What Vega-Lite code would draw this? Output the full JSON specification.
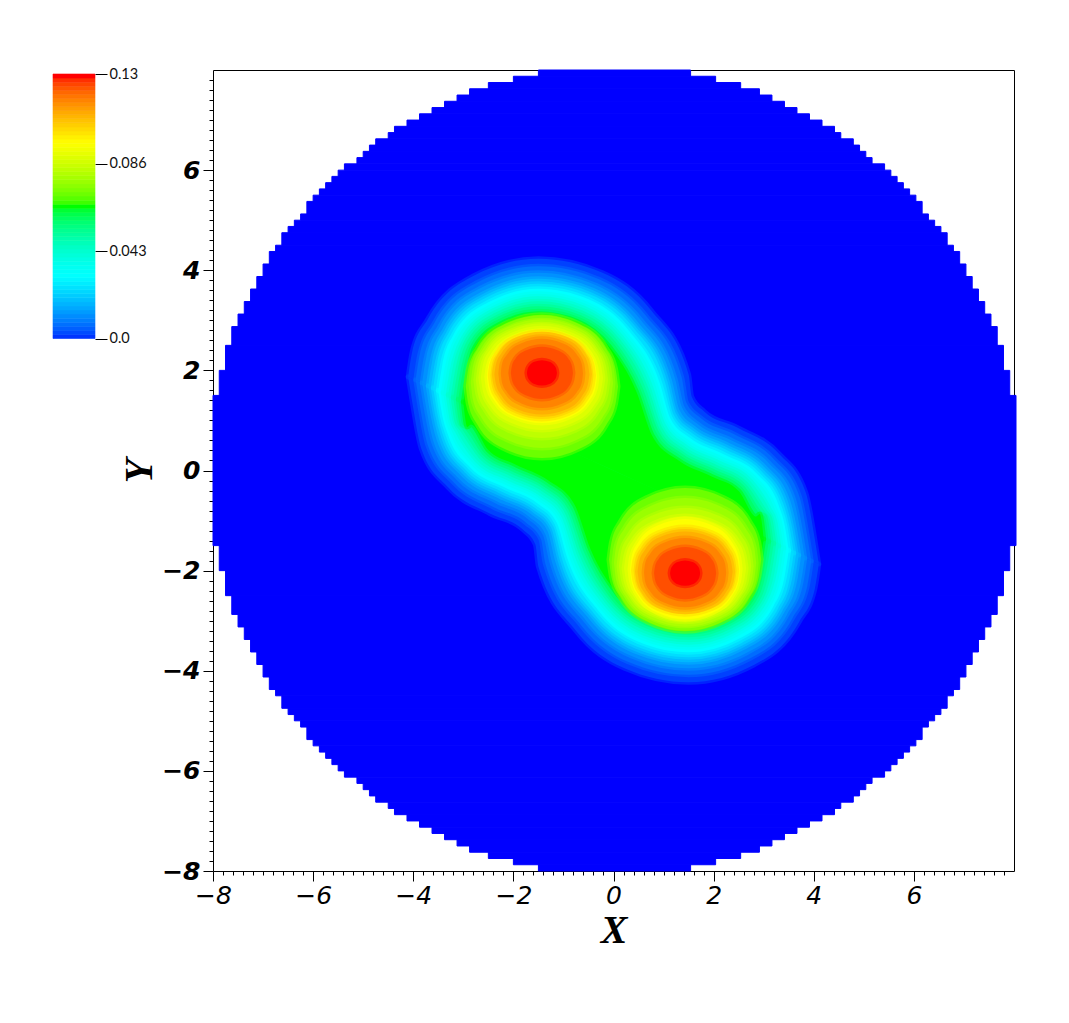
{"$schema":"https://vega.github.io/schema/vega-lite/v6.json","background":"white","padding":{"left":52,"top":66,"right":0,"bottom":0},"bounds":"flush","spacing":118,"config":{"view":{"stroke":null}},
"datasets":{
"bar":[{"y":0,"y2":0.002},{"y":0.002,"y2":0.004},{"y":0.004,"y2":0.006},{"y":0.006,"y2":0.008},{"y":0.008,"y2":0.01},{"y":0.01,"y2":0.012},{"y":0.012,"y2":0.014},{"y":0.014,"y2":0.016},{"y":0.016,"y2":0.018},{"y":0.018,"y2":0.02},{"y":0.02,"y2":0.022},{"y":0.022,"y2":0.024},{"y":0.024,"y2":0.026},{"y":0.026,"y2":0.028},{"y":0.028,"y2":0.03},{"y":0.03,"y2":0.032},{"y":0.032,"y2":0.034},{"y":0.034,"y2":0.036},{"y":0.036,"y2":0.038},{"y":0.038,"y2":0.04},{"y":0.04,"y2":0.042},{"y":0.042,"y2":0.044},{"y":0.044,"y2":0.046},{"y":0.046,"y2":0.048},{"y":0.048,"y2":0.05},{"y":0.05,"y2":0.052},{"y":0.052,"y2":0.054},{"y":0.054,"y2":0.056},{"y":0.056,"y2":0.058},{"y":0.058,"y2":0.06},{"y":0.06,"y2":0.062},{"y":0.062,"y2":0.064},{"y":0.064,"y2":0.066},{"y":0.066,"y2":0.068},{"y":0.068,"y2":0.07},{"y":0.07,"y2":0.072},{"y":0.072,"y2":0.074},{"y":0.074,"y2":0.076},{"y":0.076,"y2":0.078},{"y":0.078,"y2":0.08},{"y":0.08,"y2":0.082},{"y":0.082,"y2":0.084},{"y":0.084,"y2":0.086},{"y":0.086,"y2":0.088},{"y":0.088,"y2":0.09},{"y":0.09,"y2":0.092},{"y":0.092,"y2":0.094},{"y":0.094,"y2":0.096},{"y":0.096,"y2":0.098},{"y":0.098,"y2":0.1},{"y":0.1,"y2":0.102},{"y":0.102,"y2":0.104},{"y":0.104,"y2":0.106},{"y":0.106,"y2":0.108},{"y":0.108,"y2":0.11},{"y":0.11,"y2":0.112},{"y":0.112,"y2":0.114},{"y":0.114,"y2":0.116},{"y":0.116,"y2":0.118},{"y":0.118,"y2":0.12},{"y":0.12,"y2":0.122},{"y":0.122,"y2":0.124},{"y":0.124,"y2":0.126},{"y":0.126,"y2":0.128},{"y":0.128,"y2":0.13}],
"disk":[{"v":0,"x":-1.5,"x2":1.54,"y":7.875,"y2":8},{"v":0,"x":-2,"x2":2.04,"y":7.75,"y2":7.875},{"v":0,"x":-2.5,"x2":2.54,"y":7.625,"y2":7.75},{"v":0,"x":-2.875,"x2":2.915,"y":7.5,"y2":7.625},{"v":0,"x":-3.125,"x2":3.165,"y":7.375,"y2":7.5},{"v":0,"x":-3.375,"x2":3.415,"y":7.25,"y2":7.375},{"v":0,"x":-3.625,"x2":3.665,"y":7.125,"y2":7.25},{"v":0,"x":-3.875,"x2":3.915,"y":7,"y2":7.125},{"v":0,"x":-4.125,"x2":4.165,"y":6.875,"y2":7},{"v":0,"x":-4.375,"x2":4.415,"y":6.75,"y2":6.875},{"v":0,"x":-4.5,"x2":4.54,"y":6.625,"y2":6.75},{"v":0,"x":-4.75,"x2":4.79,"y":6.5,"y2":6.625},{"v":0,"x":-4.875,"x2":4.915,"y":6.375,"y2":6.5},{"v":0,"x":-5,"x2":5.04,"y":6.25,"y2":6.375},{"v":0,"x":-5.125,"x2":5.165,"y":6.125,"y2":6.25},{"v":0,"x":-5.375,"x2":5.415,"y":6,"y2":6.125},{"v":0,"x":-5.5,"x2":5.54,"y":5.875,"y2":6},{"v":0,"x":-5.625,"x2":5.665,"y":5.75,"y2":5.875},{"v":0,"x":-5.75,"x2":5.79,"y":5.625,"y2":5.75},{"v":0,"x":-5.875,"x2":5.915,"y":5.5,"y2":5.625},{"v":0,"x":-6,"x2":6.04,"y":5.375,"y2":5.5},{"v":0,"x":-6.125,"x2":6.165,"y":5.125,"y2":5.375},{"v":0,"x":-6.25,"x2":6.29,"y":5,"y2":5.125},{"v":0,"x":-6.375,"x2":6.415,"y":4.875,"y2":5},{"v":0,"x":-6.5,"x2":6.54,"y":4.75,"y2":4.875},{"v":0,"x":-6.625,"x2":6.665,"y":4.5,"y2":4.75},{"v":0,"x":-6.75,"x2":6.79,"y":4.375,"y2":4.5},{"v":0,"x":-6.875,"x2":6.915,"y":4.125,"y2":4.375},{"v":0,"x":-7,"x2":7.04,"y":3.875,"y2":4.125},{"v":0,"x":-7.125,"x2":7.165,"y":3.625,"y2":3.875},{"v":0,"x":-7.25,"x2":7.29,"y":3.375,"y2":3.625},{"v":0,"x":-7.375,"x2":7.415,"y":3.125,"y2":3.375},{"v":0,"x":-7.5,"x2":7.54,"y":2.875,"y2":3.125},{"v":0,"x":-7.625,"x2":7.665,"y":2.5,"y2":2.875},{"v":0,"x":-7.75,"x2":7.79,"y":2,"y2":2.5},{"v":0,"x":-7.875,"x2":7.915,"y":1.5,"y2":2},{"v":0,"x":-8,"x2":8.04,"y":-1.5,"y2":1.5},{"v":0,"x":-7.875,"x2":7.915,"y":-2,"y2":-1.5},{"v":0,"x":-7.75,"x2":7.79,"y":-2.5,"y2":-2},{"v":0,"x":-7.625,"x2":7.665,"y":-2.875,"y2":-2.5},{"v":0,"x":-7.5,"x2":7.54,"y":-3.125,"y2":-2.875},{"v":0,"x":-7.375,"x2":7.415,"y":-3.375,"y2":-3.125},{"v":0,"x":-7.25,"x2":7.29,"y":-3.625,"y2":-3.375},{"v":0,"x":-7.125,"x2":7.165,"y":-3.875,"y2":-3.625},{"v":0,"x":-7,"x2":7.04,"y":-4.125,"y2":-3.875},{"v":0,"x":-6.875,"x2":6.915,"y":-4.375,"y2":-4.125},{"v":0,"x":-6.75,"x2":6.79,"y":-4.5,"y2":-4.375},{"v":0,"x":-6.625,"x2":6.665,"y":-4.75,"y2":-4.5},{"v":0,"x":-6.5,"x2":6.54,"y":-4.875,"y2":-4.75},{"v":0,"x":-6.375,"x2":6.415,"y":-5,"y2":-4.875},{"v":0,"x":-6.25,"x2":6.29,"y":-5.125,"y2":-5},{"v":0,"x":-6.125,"x2":6.165,"y":-5.375,"y2":-5.125},{"v":0,"x":-6,"x2":6.04,"y":-5.5,"y2":-5.375},{"v":0,"x":-5.875,"x2":5.915,"y":-5.625,"y2":-5.5},{"v":0,"x":-5.75,"x2":5.79,"y":-5.75,"y2":-5.625},{"v":0,"x":-5.625,"x2":5.665,"y":-5.875,"y2":-5.75},{"v":0,"x":-5.5,"x2":5.54,"y":-6,"y2":-5.875},{"v":0,"x":-5.375,"x2":5.415,"y":-6.125,"y2":-6},{"v":0,"x":-5.125,"x2":5.165,"y":-6.25,"y2":-6.125},{"v":0,"x":-5,"x2":5.04,"y":-6.375,"y2":-6.25},{"v":0,"x":-4.875,"x2":4.915,"y":-6.5,"y2":-6.375},{"v":0,"x":-4.75,"x2":4.79,"y":-6.625,"y2":-6.5},{"v":0,"x":-4.5,"x2":4.54,"y":-6.75,"y2":-6.625},{"v":0,"x":-4.375,"x2":4.415,"y":-6.875,"y2":-6.75},{"v":0,"x":-4.125,"x2":4.165,"y":-7,"y2":-6.875},{"v":0,"x":-3.875,"x2":3.915,"y":-7.125,"y2":-7},{"v":0,"x":-3.625,"x2":3.665,"y":-7.25,"y2":-7.125},{"v":0,"x":-3.375,"x2":3.415,"y":-7.375,"y2":-7.25},{"v":0,"x":-3.125,"x2":3.165,"y":-7.5,"y2":-7.375},{"v":0,"x":-2.875,"x2":2.915,"y":-7.625,"y2":-7.5},{"v":0,"x":-2.5,"x2":2.54,"y":-7.75,"y2":-7.625},{"v":0,"x":-2,"x2":2.04,"y":-7.875,"y2":-7.75},{"v":0,"x":-1.5,"x2":1.54,"y":-8,"y2":-7.875}],
"shape":[
{"v":0.003,"p":1,"x":-4.1,"y":1.87,"y2":1.87},{"v":0.003,"p":1,"x":-3.71,"y":3.02,"y2":1.7},{"v":0.003,"p":1,"x":-2.81,"y":3.88,"y2":1.28},{"v":0.003,"p":1,"x":-1.5,"y":4.23,"y2":0.69},{"v":0.003,"p":1,"x":-0.22,"y":3.95,"y2":0.1},{"v":0.003,"p":1,"x":0.75,"y":3.2,"y2":-0.34},{"v":0.003,"p":1,"x":1.5,"y":1.92,"y2":-0.69},{"v":0.003,"p":1,"x":1.56,"y":1.48,"y2":-0.71},{"v":0.003,"p":1,"x":1.81,"y":1.18,"y2":-0.83},{"v":0.003,"p":1,"x":2.47,"y":0.86,"y2":-1.13},{"v":0.003,"p":1,"x":3.3,"y":0.34,"y2":-1.51},{"v":0.003,"p":1,"x":3.84,"y":-0.44,"y2":-1.75},{"v":0.003,"p":1,"x":4.1,"y":-1.87,"y2":-1.87},
{"v":0.003,"p":2,"x":4.1,"y":-1.87,"y2":-1.87},{"v":0.003,"p":2,"x":3.71,"y":-3.02,"y2":-1.7},{"v":0.003,"p":2,"x":2.81,"y":-3.88,"y2":-1.28},{"v":0.003,"p":2,"x":1.5,"y":-4.23,"y2":-0.69},{"v":0.003,"p":2,"x":0.22,"y":-3.95,"y2":-0.1},{"v":0.003,"p":2,"x":-0.75,"y":-3.2,"y2":0.34},{"v":0.003,"p":2,"x":-1.5,"y":-1.92,"y2":0.69},{"v":0.003,"p":2,"x":-1.56,"y":-1.48,"y2":0.71},{"v":0.003,"p":2,"x":-1.81,"y":-1.18,"y2":0.83},{"v":0.003,"p":2,"x":-2.47,"y":-0.86,"y2":1.13},{"v":0.003,"p":2,"x":-3.3,"y":-0.34,"y2":1.51},{"v":0.003,"p":2,"x":-3.84,"y":0.44,"y2":1.75},{"v":0.003,"p":2,"x":-4.1,"y":1.87,"y2":1.87},
{"v":0.0075,"p":1,"x":-3.95,"y":1.81,"y2":1.81},{"v":0.0075,"p":1,"x":-3.58,"y":2.94,"y2":1.64},{"v":0.0075,"p":1,"x":-2.73,"y":3.75,"y2":1.25},{"v":0.0075,"p":1,"x":-1.5,"y":4.08,"y2":0.69},{"v":0.0075,"p":1,"x":-0.29,"y":3.82,"y2":0.13},{"v":0.0075,"p":1,"x":0.64,"y":3.1,"y2":-0.29},{"v":0.0075,"p":1,"x":1.36,"y":1.87,"y2":-0.62},{"v":0.0075,"p":1,"x":1.45,"y":1.37,"y2":-0.66},{"v":0.0075,"p":1,"x":1.74,"y":1.05,"y2":-0.8},{"v":0.0075,"p":1,"x":2.4,"y":0.73,"y2":-1.1},{"v":0.0075,"p":1,"x":3.19,"y":0.24,"y2":-1.46},{"v":0.0075,"p":1,"x":3.71,"y":-0.51,"y2":-1.7},{"v":0.0075,"p":1,"x":3.95,"y":-1.81,"y2":-1.81},
{"v":0.0075,"p":2,"x":3.95,"y":-1.81,"y2":-1.81},{"v":0.0075,"p":2,"x":3.58,"y":-2.94,"y2":-1.64},{"v":0.0075,"p":2,"x":2.73,"y":-3.75,"y2":-1.25},{"v":0.0075,"p":2,"x":1.5,"y":-4.08,"y2":-0.69},{"v":0.0075,"p":2,"x":0.29,"y":-3.82,"y2":-0.13},{"v":0.0075,"p":2,"x":-0.64,"y":-3.1,"y2":0.29},{"v":0.0075,"p":2,"x":-1.36,"y":-1.87,"y2":0.62},{"v":0.0075,"p":2,"x":-1.45,"y":-1.37,"y2":0.66},{"v":0.0075,"p":2,"x":-1.74,"y":-1.05,"y2":0.8},{"v":0.0075,"p":2,"x":-2.4,"y":-0.73,"y2":1.1},{"v":0.0075,"p":2,"x":-3.19,"y":-0.24,"y2":1.46},{"v":0.0075,"p":2,"x":-3.71,"y":0.51,"y2":1.7},{"v":0.0075,"p":2,"x":-3.95,"y":1.81,"y2":1.81},
{"v":0.0125,"p":1,"x":-3.82,"y":1.75,"y2":1.75},{"v":0.0125,"p":1,"x":-3.47,"y":2.87,"y2":1.59},{"v":0.0125,"p":1,"x":-2.66,"y":3.64,"y2":1.22},{"v":0.0125,"p":1,"x":-1.5,"y":3.95,"y2":0.69},{"v":0.0125,"p":1,"x":-0.35,"y":3.7,"y2":0.16},{"v":0.0125,"p":1,"x":0.54,"y":3.01,"y2":-0.25},{"v":0.0125,"p":1,"x":1.23,"y":1.83,"y2":-0.56},{"v":0.0125,"p":1,"x":1.36,"y":1.28,"y2":-0.62},{"v":0.0125,"p":1,"x":1.68,"y":0.93,"y2":-0.77},{"v":0.0125,"p":1,"x":2.34,"y":0.61,"y2":-1.07},{"v":0.0125,"p":1,"x":3.1,"y":0.15,"y2":-1.42},{"v":0.0125,"p":1,"x":3.59,"y":-0.56,"y2":-1.64},{"v":0.0125,"p":1,"x":3.82,"y":-1.75,"y2":-1.75},
{"v":0.0125,"p":2,"x":3.82,"y":-1.75,"y2":-1.75},{"v":0.0125,"p":2,"x":3.47,"y":-2.87,"y2":-1.59},{"v":0.0125,"p":2,"x":2.66,"y":-3.64,"y2":-1.22},{"v":0.0125,"p":2,"x":1.5,"y":-3.95,"y2":-0.69},{"v":0.0125,"p":2,"x":0.35,"y":-3.7,"y2":-0.16},{"v":0.0125,"p":2,"x":-0.54,"y":-3.01,"y2":0.25},{"v":0.0125,"p":2,"x":-1.23,"y":-1.83,"y2":0.56},{"v":0.0125,"p":2,"x":-1.36,"y":-1.28,"y2":0.62},{"v":0.0125,"p":2,"x":-1.68,"y":-0.93,"y2":0.77},{"v":0.0125,"p":2,"x":-2.34,"y":-0.61,"y2":1.07},{"v":0.0125,"p":2,"x":-3.1,"y":-0.15,"y2":1.42},{"v":0.0125,"p":2,"x":-3.59,"y":0.56,"y2":1.64},{"v":0.0125,"p":2,"x":-3.82,"y":1.75,"y2":1.75},
{"v":0.0185,"p":1,"x":-3.7,"y":1.69,"y2":1.69},{"v":0.0185,"p":1,"x":-3.37,"y":2.81,"y2":1.54},{"v":0.0185,"p":1,"x":-2.6,"y":3.53,"y2":1.19},{"v":0.0185,"p":1,"x":-1.5,"y":3.83,"y2":0.69},{"v":0.0185,"p":1,"x":-0.41,"y":3.6,"y2":0.19},{"v":0.0185,"p":1,"x":0.45,"y":2.93,"y2":-0.21},{"v":0.0185,"p":1,"x":1.12,"y":1.79,"y2":-0.51},{"v":0.0185,"p":1,"x":1.27,"y":1.19,"y2":-0.58},{"v":0.0185,"p":1,"x":1.62,"y":0.83,"y2":-0.74},{"v":0.0185,"p":1,"x":2.28,"y":0.51,"y2":-1.04},{"v":0.0185,"p":1,"x":3.01,"y":0.07,"y2":-1.38},{"v":0.0185,"p":1,"x":3.48,"y":-0.61,"y2":-1.59},{"v":0.0185,"p":1,"x":3.7,"y":-1.69,"y2":-1.69},
{"v":0.0185,"p":2,"x":3.7,"y":-1.69,"y2":-1.69},{"v":0.0185,"p":2,"x":3.37,"y":-2.81,"y2":-1.54},{"v":0.0185,"p":2,"x":2.6,"y":-3.53,"y2":-1.19},{"v":0.0185,"p":2,"x":1.5,"y":-3.83,"y2":-0.69},{"v":0.0185,"p":2,"x":0.41,"y":-3.6,"y2":-0.19},{"v":0.0185,"p":2,"x":-0.45,"y":-2.93,"y2":0.21},{"v":0.0185,"p":2,"x":-1.12,"y":-1.79,"y2":0.51},{"v":0.0185,"p":2,"x":-1.27,"y":-1.19,"y2":0.58},{"v":0.0185,"p":2,"x":-1.62,"y":-0.83,"y2":0.74},{"v":0.0185,"p":2,"x":-2.28,"y":-0.51,"y2":1.04},{"v":0.0185,"p":2,"x":-3.01,"y":-0.07,"y2":1.38},{"v":0.0185,"p":2,"x":-3.48,"y":0.61,"y2":1.59},{"v":0.0185,"p":2,"x":-3.7,"y":1.69,"y2":1.69},
{"v":0.025,"p":1,"x":-3.6,"y":1.65,"y2":1.65},{"v":0.025,"p":1,"x":-3.29,"y":2.75,"y2":1.5},{"v":0.025,"p":1,"x":-2.55,"y":3.45,"y2":1.17},{"v":0.025,"p":1,"x":-1.5,"y":3.73,"y2":0.69},{"v":0.025,"p":1,"x":-0.45,"y":3.51,"y2":0.21},{"v":0.025,"p":1,"x":0.38,"y":2.87,"y2":-0.17},{"v":0.025,"p":1,"x":1.03,"y":1.76,"y2":-0.47},{"v":0.025,"p":1,"x":1.2,"y":1.12,"y2":-0.55},{"v":0.025,"p":1,"x":1.58,"y":0.74,"y2":-0.72},{"v":0.025,"p":1,"x":2.24,"y":0.42,"y2":-1.02},{"v":0.025,"p":1,"x":2.94,"y":0,"y2":-1.34},{"v":0.025,"p":1,"x":3.39,"y":-0.66,"y2":-1.55},{"v":0.025,"p":1,"x":3.6,"y":-1.65,"y2":-1.65},
{"v":0.025,"p":2,"x":3.6,"y":-1.65,"y2":-1.65},{"v":0.025,"p":2,"x":3.29,"y":-2.75,"y2":-1.5},{"v":0.025,"p":2,"x":2.55,"y":-3.45,"y2":-1.17},{"v":0.025,"p":2,"x":1.5,"y":-3.73,"y2":-0.69},{"v":0.025,"p":2,"x":0.45,"y":-3.51,"y2":-0.21},{"v":0.025,"p":2,"x":-0.38,"y":-2.87,"y2":0.17},{"v":0.025,"p":2,"x":-1.03,"y":-1.76,"y2":0.47},{"v":0.025,"p":2,"x":-1.2,"y":-1.12,"y2":0.55},{"v":0.025,"p":2,"x":-1.58,"y":-0.74,"y2":0.72},{"v":0.025,"p":2,"x":-2.24,"y":-0.42,"y2":1.02},{"v":0.025,"p":2,"x":-2.94,"y":0,"y2":1.34},{"v":0.025,"p":2,"x":-3.39,"y":0.66,"y2":1.55},{"v":0.025,"p":2,"x":-3.6,"y":1.65,"y2":1.65},
{"v":0.0316,"p":1,"x":-3.5,"y":1.6,"y2":1.6},{"v":0.0316,"p":1,"x":-3.2,"y":2.7,"y2":1.46},{"v":0.0316,"p":1,"x":-2.5,"y":3.36,"y2":1.14},{"v":0.0316,"p":1,"x":-1.5,"y":3.63,"y2":0.69},{"v":0.0316,"p":1,"x":-0.5,"y":3.42,"y2":0.23},{"v":0.0316,"p":1,"x":0.3,"y":2.8,"y2":-0.14},{"v":0.0316,"p":1,"x":0.93,"y":1.73,"y2":-0.43},{"v":0.0316,"p":1,"x":1.13,"y":1.05,"y2":-0.52},{"v":0.0316,"p":1,"x":1.53,"y":0.65,"y2":-0.7},{"v":0.0316,"p":1,"x":2.19,"y":0.33,"y2":-1},{"v":0.0316,"p":1,"x":2.87,"y":-0.07,"y2":-1.31},{"v":0.0316,"p":1,"x":3.3,"y":-0.7,"y2":-1.51},{"v":0.0316,"p":1,"x":3.5,"y":-1.6,"y2":-1.6},
{"v":0.0316,"p":2,"x":3.5,"y":-1.6,"y2":-1.6},{"v":0.0316,"p":2,"x":3.2,"y":-2.7,"y2":-1.46},{"v":0.0316,"p":2,"x":2.5,"y":-3.36,"y2":-1.14},{"v":0.0316,"p":2,"x":1.5,"y":-3.63,"y2":-0.69},{"v":0.0316,"p":2,"x":0.5,"y":-3.42,"y2":-0.23},{"v":0.0316,"p":2,"x":-0.3,"y":-2.8,"y2":0.14},{"v":0.0316,"p":2,"x":-0.93,"y":-1.73,"y2":0.43},{"v":0.0316,"p":2,"x":-1.13,"y":-1.05,"y2":0.52},{"v":0.0316,"p":2,"x":-1.53,"y":-0.65,"y2":0.7},{"v":0.0316,"p":2,"x":-2.19,"y":-0.33,"y2":1},{"v":0.0316,"p":2,"x":-2.87,"y":0.07,"y2":1.31},{"v":0.0316,"p":2,"x":-3.3,"y":0.7,"y2":1.51},{"v":0.0316,"p":2,"x":-3.5,"y":1.6,"y2":1.6},
{"v":0.038,"p":1,"x":-3.4,"y":1.55,"y2":1.55},{"v":0.038,"p":1,"x":-3.12,"y":2.65,"y2":1.43},{"v":0.038,"p":1,"x":-2.45,"y":3.27,"y2":1.12},{"v":0.038,"p":1,"x":-1.5,"y":3.53,"y2":0.69},{"v":0.038,"p":1,"x":-0.55,"y":3.33,"y2":0.25},{"v":0.038,"p":1,"x":0.23,"y":2.73,"y2":-0.11},{"v":0.038,"p":1,"x":0.84,"y":1.7,"y2":-0.38},{"v":0.038,"p":1,"x":1.06,"y":0.98,"y2":-0.48},{"v":0.038,"p":1,"x":1.48,"y":0.56,"y2":-0.68},{"v":0.038,"p":1,"x":2.14,"y":0.24,"y2":-0.98},{"v":0.038,"p":1,"x":2.8,"y":-0.14,"y2":-1.28},{"v":0.038,"p":1,"x":3.21,"y":-0.74,"y2":-1.47},{"v":0.038,"p":1,"x":3.4,"y":-1.55,"y2":-1.55},
{"v":0.038,"p":2,"x":3.4,"y":-1.55,"y2":-1.55},{"v":0.038,"p":2,"x":3.12,"y":-2.65,"y2":-1.43},{"v":0.038,"p":2,"x":2.45,"y":-3.27,"y2":-1.12},{"v":0.038,"p":2,"x":1.5,"y":-3.53,"y2":-0.69},{"v":0.038,"p":2,"x":0.55,"y":-3.33,"y2":-0.25},{"v":0.038,"p":2,"x":-0.23,"y":-2.73,"y2":0.11},{"v":0.038,"p":2,"x":-0.84,"y":-1.7,"y2":0.38},{"v":0.038,"p":2,"x":-1.06,"y":-0.98,"y2":0.48},{"v":0.038,"p":2,"x":-1.48,"y":-0.56,"y2":0.68},{"v":0.038,"p":2,"x":-2.14,"y":-0.24,"y2":0.98},{"v":0.038,"p":2,"x":-2.8,"y":0.14,"y2":1.28},{"v":0.038,"p":2,"x":-3.21,"y":0.74,"y2":1.47},{"v":0.038,"p":2,"x":-3.4,"y":1.55,"y2":1.55},
{"v":0.045,"p":1,"x":-3.3,"y":1.51,"y2":1.51},{"v":0.045,"p":1,"x":-3.03,"y":2.59,"y2":1.38},{"v":0.045,"p":1,"x":-2.4,"y":3.19,"y2":1.1},{"v":0.045,"p":1,"x":-1.5,"y":3.43,"y2":0.69},{"v":0.045,"p":1,"x":-0.59,"y":3.24,"y2":0.27},{"v":0.045,"p":1,"x":0.15,"y":2.67,"y2":-0.07},{"v":0.045,"p":1,"x":0.74,"y":1.67,"y2":-0.34},{"v":0.045,"p":1,"x":0.99,"y":0.91,"y2":-0.45},{"v":0.045,"p":1,"x":1.44,"y":0.47,"y2":-0.66},{"v":0.045,"p":1,"x":2.1,"y":0.15,"y2":-0.96},{"v":0.045,"p":1,"x":2.73,"y":-0.21,"y2":-1.25},{"v":0.045,"p":1,"x":3.12,"y":-0.79,"y2":-1.43},{"v":0.045,"p":1,"x":3.3,"y":-1.51,"y2":-1.51},
{"v":0.045,"p":2,"x":3.3,"y":-1.51,"y2":-1.51},{"v":0.045,"p":2,"x":3.03,"y":-2.59,"y2":-1.38},{"v":0.045,"p":2,"x":2.4,"y":-3.19,"y2":-1.1},{"v":0.045,"p":2,"x":1.5,"y":-3.43,"y2":-0.69},{"v":0.045,"p":2,"x":0.59,"y":-3.24,"y2":-0.27},{"v":0.045,"p":2,"x":-0.15,"y":-2.67,"y2":0.07},{"v":0.045,"p":2,"x":-0.74,"y":-1.67,"y2":0.34},{"v":0.045,"p":2,"x":-0.99,"y":-0.91,"y2":0.45},{"v":0.045,"p":2,"x":-1.44,"y":-0.47,"y2":0.66},{"v":0.045,"p":2,"x":-2.1,"y":-0.15,"y2":0.96},{"v":0.045,"p":2,"x":-2.73,"y":0.21,"y2":1.25},{"v":0.045,"p":2,"x":-3.12,"y":0.79,"y2":1.43},{"v":0.045,"p":2,"x":-3.3,"y":1.51,"y2":1.51},
{"v":0.052,"p":1,"x":-3.2,"y":1.46,"y2":1.46},{"v":0.052,"p":1,"x":-2.95,"y":2.54,"y2":1.35},{"v":0.052,"p":1,"x":-2.35,"y":3.1,"y2":1.07},{"v":0.052,"p":1,"x":-1.5,"y":3.33,"y2":0.69},{"v":0.052,"p":1,"x":-0.64,"y":3.15,"y2":0.29},{"v":0.052,"p":1,"x":0.08,"y":2.6,"y2":-0.04},{"v":0.052,"p":1,"x":0.65,"y":1.63,"y2":-0.3},{"v":0.052,"p":1,"x":0.92,"y":0.84,"y2":-0.42},{"v":0.052,"p":1,"x":1.39,"y":0.38,"y2":-0.64},{"v":0.052,"p":1,"x":2.05,"y":0.06,"y2":-0.94},{"v":0.052,"p":1,"x":2.65,"y":-0.28,"y2":-1.21},{"v":0.052,"p":1,"x":3.03,"y":-0.83,"y2":-1.38},{"v":0.052,"p":1,"x":3.2,"y":-1.46,"y2":-1.46},
{"v":0.052,"p":2,"x":3.2,"y":-1.46,"y2":-1.46},{"v":0.052,"p":2,"x":2.95,"y":-2.54,"y2":-1.35},{"v":0.052,"p":2,"x":2.35,"y":-3.1,"y2":-1.07},{"v":0.052,"p":2,"x":1.5,"y":-3.33,"y2":-0.69},{"v":0.052,"p":2,"x":0.64,"y":-3.15,"y2":-0.29},{"v":0.052,"p":2,"x":-0.08,"y":-2.6,"y2":0.04},{"v":0.052,"p":2,"x":-0.65,"y":-1.63,"y2":0.3},{"v":0.052,"p":2,"x":-0.92,"y":-0.84,"y2":0.42},{"v":0.052,"p":2,"x":-1.39,"y":-0.38,"y2":0.64},{"v":0.052,"p":2,"x":-2.05,"y":-0.06,"y2":0.94},{"v":0.052,"p":2,"x":-2.65,"y":0.28,"y2":1.21},{"v":0.052,"p":2,"x":-3.03,"y":0.83,"y2":1.38},{"v":0.052,"p":2,"x":-3.2,"y":1.46,"y2":1.46},
{"v":0.059,"p":1,"x":-3.1,"y":1.42,"y2":1.42},{"v":0.059,"p":1,"x":-2.86,"y":2.49,"y2":1.31},{"v":0.059,"p":1,"x":-2.3,"y":3.02,"y2":1.05},{"v":0.059,"p":1,"x":-1.5,"y":3.23,"y2":0.69},{"v":0.059,"p":1,"x":-0.68,"y":3.06,"y2":0.31},{"v":0.059,"p":1,"x":0,"y":2.54,"y2":0},{"v":0.059,"p":1,"x":0.55,"y":1.6,"y2":-0.25},{"v":0.059,"p":1,"x":0.85,"y":0.77,"y2":-0.39},{"v":0.059,"p":1,"x":1.35,"y":0.29,"y2":-0.62},{"v":0.059,"p":1,"x":2.01,"y":-0.03,"y2":-0.92},{"v":0.059,"p":1,"x":2.58,"y":-0.35,"y2":-1.18},{"v":0.059,"p":1,"x":2.94,"y":-0.87,"y2":-1.34},{"v":0.059,"p":1,"x":3.1,"y":-1.42,"y2":-1.42},
{"v":0.059,"p":2,"x":3.1,"y":-1.42,"y2":-1.42},{"v":0.059,"p":2,"x":2.86,"y":-2.49,"y2":-1.31},{"v":0.059,"p":2,"x":2.3,"y":-3.02,"y2":-1.05},{"v":0.059,"p":2,"x":1.5,"y":-3.23,"y2":-0.69},{"v":0.059,"p":2,"x":0.68,"y":-3.06,"y2":-0.31},{"v":0.059,"p":2,"x":-0.01,"y":-2.54,"y2":0},{"v":0.059,"p":2,"x":-0.55,"y":-1.6,"y2":0.25},{"v":0.059,"p":2,"x":-0.85,"y":-0.77,"y2":0.39},{"v":0.059,"p":2,"x":-1.35,"y":-0.29,"y2":0.62},{"v":0.059,"p":2,"x":-2.01,"y":0.03,"y2":0.92},{"v":0.059,"p":2,"x":-2.58,"y":0.35,"y2":1.18},{"v":0.059,"p":2,"x":-2.94,"y":0.87,"y2":1.34},{"v":0.059,"p":2,"x":-3.1,"y":1.42,"y2":1.42},
{"v":0.066,"p":1,"x":-3,"y":1.37,"y2":1.37},{"v":0.066,"p":1,"x":-2.78,"y":2.44,"y2":1.27},{"v":0.066,"p":1,"x":-2.25,"y":2.93,"y2":1.03},{"v":0.066,"p":1,"x":-1.5,"y":3.13,"y2":0.69},{"v":0.066,"p":1,"x":-0.73,"y":2.98,"y2":0.33},{"v":0.066,"p":1,"x":-0.08,"y":2.47,"y2":0.04},{"v":0.066,"p":1,"x":0.46,"y":1.57,"y2":-0.21},{"v":0.066,"p":1,"x":0.77,"y":0.7,"y2":-0.35},{"v":0.066,"p":1,"x":1.3,"y":0.2,"y2":-0.59},{"v":0.066,"p":1,"x":1.96,"y":-0.12,"y2":-0.9},{"v":0.066,"p":1,"x":2.51,"y":-0.42,"y2":-1.15},{"v":0.066,"p":1,"x":2.85,"y":-0.92,"y2":-1.3},{"v":0.066,"p":1,"x":3,"y":-1.37,"y2":-1.37},
{"v":0.066,"p":2,"x":3,"y":-1.37,"y2":-1.37},{"v":0.066,"p":2,"x":2.78,"y":-2.44,"y2":-1.27},{"v":0.066,"p":2,"x":2.25,"y":-2.93,"y2":-1.03},{"v":0.066,"p":2,"x":1.5,"y":-3.13,"y2":-0.69},{"v":0.066,"p":2,"x":0.73,"y":-2.98,"y2":-0.33},{"v":0.066,"p":2,"x":0.08,"y":-2.47,"y2":-0.04},{"v":0.066,"p":2,"x":-0.46,"y":-1.57,"y2":0.21},{"v":0.066,"p":2,"x":-0.77,"y":-0.7,"y2":0.35},{"v":0.066,"p":2,"x":-1.3,"y":-0.2,"y2":0.59},{"v":0.066,"p":2,"x":-1.96,"y":0.12,"y2":0.9},{"v":0.066,"p":2,"x":-2.51,"y":0.42,"y2":1.15},{"v":0.066,"p":2,"x":-2.85,"y":0.92,"y2":1.3},{"v":0.066,"p":2,"x":-3,"y":1.37,"y2":1.37},
{"v":0.072,"p":1,"x":-2.95,"y":1.68,"y2":1.68},{"v":0.072,"p":1,"x":-2.72,"y":2.44,"y2":0.92},{"v":0.072,"p":1,"x":-2.19,"y":2.92,"y2":0.44},{"v":0.072,"p":1,"x":-1.43,"y":3.11,"y2":0.25},{"v":0.072,"p":1,"x":-0.67,"y":2.92,"y2":0.44},{"v":0.072,"p":1,"x":-0.14,"y":2.44,"y2":0.92},{"v":0.072,"p":1,"x":0.09,"y":1.68,"y2":1.68},
{"v":0.072,"p":2,"x":-0.09,"y":-1.78,"y2":-1.78},{"v":0.072,"p":2,"x":0.14,"y":-1.02,"y2":-2.54},{"v":0.072,"p":2,"x":0.67,"y":-0.54,"y2":-3.02},{"v":0.072,"p":2,"x":1.43,"y":-0.35,"y2":-3.21},{"v":0.072,"p":2,"x":2.19,"y":-0.54,"y2":-3.02},{"v":0.072,"p":2,"x":2.72,"y":-1.02,"y2":-2.54},{"v":0.072,"p":2,"x":2.95,"y":-1.78,"y2":-1.78},
{"v":0.078,"p":1,"x":-2.85,"y":1.75,"y2":1.75},{"v":0.078,"p":1,"x":-2.64,"y":2.44,"y2":1.06},{"v":0.078,"p":1,"x":-2.14,"y":2.88,"y2":0.62},{"v":0.078,"p":1,"x":-1.43,"y":3.05,"y2":0.45},{"v":0.078,"p":1,"x":-0.72,"y":2.88,"y2":0.62},{"v":0.078,"p":1,"x":-0.22,"y":2.44,"y2":1.06},{"v":0.078,"p":1,"x":-0.01,"y":1.75,"y2":1.75},
{"v":0.078,"p":2,"x":0.01,"y":-1.85,"y2":-1.85},{"v":0.078,"p":2,"x":0.22,"y":-1.16,"y2":-2.54},{"v":0.078,"p":2,"x":0.72,"y":-0.72,"y2":-2.98},{"v":0.078,"p":2,"x":1.43,"y":-0.55,"y2":-3.15},{"v":0.078,"p":2,"x":2.14,"y":-0.72,"y2":-2.98},{"v":0.078,"p":2,"x":2.64,"y":-1.16,"y2":-2.54},{"v":0.078,"p":2,"x":2.85,"y":-1.85,"y2":-1.85},
{"v":0.084,"p":1,"x":-2.75,"y":1.81,"y2":1.81},{"v":0.084,"p":1,"x":-2.55,"y":2.42,"y2":1.2},{"v":0.084,"p":1,"x":-2.09,"y":2.82,"y2":0.8},{"v":0.084,"p":1,"x":-1.43,"y":2.97,"y2":0.65},{"v":0.084,"p":1,"x":-0.77,"y":2.82,"y2":0.8},{"v":0.084,"p":1,"x":-0.31,"y":2.42,"y2":1.2},{"v":0.084,"p":1,"x":-0.11,"y":1.81,"y2":1.81},
{"v":0.084,"p":2,"x":0.11,"y":-1.91,"y2":-1.91},{"v":0.084,"p":2,"x":0.31,"y":-1.3,"y2":-2.52},{"v":0.084,"p":2,"x":0.77,"y":-0.9,"y2":-2.92},{"v":0.084,"p":2,"x":1.43,"y":-0.75,"y2":-3.07},{"v":0.084,"p":2,"x":2.09,"y":-0.9,"y2":-2.92},{"v":0.084,"p":2,"x":2.55,"y":-1.3,"y2":-2.52},{"v":0.084,"p":2,"x":2.75,"y":-1.91,"y2":-1.91},
{"v":0.09,"p":1,"x":-2.65,"y":1.85,"y2":1.85},{"v":0.09,"p":1,"x":-2.47,"y":2.4,"y2":1.3},{"v":0.09,"p":1,"x":-2.04,"y":2.75,"y2":0.95},{"v":0.09,"p":1,"x":-1.43,"y":2.89,"y2":0.81},{"v":0.09,"p":1,"x":-0.82,"y":2.75,"y2":0.95},{"v":0.09,"p":1,"x":-0.39,"y":2.4,"y2":1.3},{"v":0.09,"p":1,"x":-0.21,"y":1.85,"y2":1.85},
{"v":0.09,"p":2,"x":0.21,"y":-1.95,"y2":-1.95},{"v":0.09,"p":2,"x":0.39,"y":-1.4,"y2":-2.5},{"v":0.09,"p":2,"x":0.82,"y":-1.05,"y2":-2.85},{"v":0.09,"p":2,"x":1.43,"y":-0.91,"y2":-2.99},{"v":0.09,"p":2,"x":2.04,"y":-1.05,"y2":-2.85},{"v":0.09,"p":2,"x":2.47,"y":-1.4,"y2":-2.5},{"v":0.09,"p":2,"x":2.65,"y":-1.95,"y2":-1.95},
{"v":0.097,"p":1,"x":-2.53,"y":1.87,"y2":1.87},{"v":0.097,"p":1,"x":-2.37,"y":2.36,"y2":1.38},{"v":0.097,"p":1,"x":-1.98,"y":2.67,"y2":1.07},{"v":0.097,"p":1,"x":-1.43,"y":2.79,"y2":0.95},{"v":0.097,"p":1,"x":-0.88,"y":2.67,"y2":1.07},{"v":0.097,"p":1,"x":-0.49,"y":2.36,"y2":1.38},{"v":0.097,"p":1,"x":-0.33,"y":1.87,"y2":1.87},
{"v":0.097,"p":2,"x":0.33,"y":-1.97,"y2":-1.97},{"v":0.097,"p":2,"x":0.49,"y":-1.44,"y2":-2.5},{"v":0.097,"p":2,"x":0.88,"y":-1.1,"y2":-2.84},{"v":0.097,"p":2,"x":1.43,"y":-0.97,"y2":-2.97},{"v":0.097,"p":2,"x":1.98,"y":-1.1,"y2":-2.84},{"v":0.097,"p":2,"x":2.37,"y":-1.44,"y2":-2.5},{"v":0.097,"p":2,"x":2.53,"y":-1.97,"y2":-1.97},
{"v":0.104,"p":1,"x":-2.46,"y":1.9,"y2":1.9},{"v":0.104,"p":1,"x":-2.31,"y":2.36,"y2":1.44},{"v":0.104,"p":1,"x":-1.95,"y":2.66,"y2":1.14},{"v":0.104,"p":1,"x":-1.43,"y":2.77,"y2":1.03},{"v":0.104,"p":1,"x":-0.91,"y":2.66,"y2":1.14},{"v":0.104,"p":1,"x":-0.55,"y":2.36,"y2":1.44},{"v":0.104,"p":1,"x":-0.4,"y":1.9,"y2":1.9},
{"v":0.104,"p":2,"x":0.4,"y":-2,"y2":-2},{"v":0.104,"p":2,"x":0.55,"y":-1.54,"y2":-2.46},{"v":0.104,"p":2,"x":0.91,"y":-1.24,"y2":-2.76},{"v":0.104,"p":2,"x":1.43,"y":-1.13,"y2":-2.87},{"v":0.104,"p":2,"x":1.95,"y":-1.24,"y2":-2.76},{"v":0.104,"p":2,"x":2.31,"y":-1.54,"y2":-2.46},{"v":0.104,"p":2,"x":2.46,"y":-2,"y2":-2},
{"v":0.111,"p":1,"x":-2.38,"y":1.92,"y2":1.92},{"v":0.111,"p":1,"x":-2.24,"y":2.34,"y2":1.5},{"v":0.111,"p":1,"x":-1.91,"y":2.62,"y2":1.22},{"v":0.111,"p":1,"x":-1.43,"y":2.72,"y2":1.12},{"v":0.111,"p":1,"x":-0.95,"y":2.62,"y2":1.22},{"v":0.111,"p":1,"x":-0.62,"y":2.34,"y2":1.5},{"v":0.111,"p":1,"x":-0.48,"y":1.92,"y2":1.92},
{"v":0.111,"p":2,"x":0.48,"y":-2.02,"y2":-2.02},{"v":0.111,"p":2,"x":0.62,"y":-1.6,"y2":-2.44},{"v":0.111,"p":2,"x":0.95,"y":-1.32,"y2":-2.72},{"v":0.111,"p":2,"x":1.43,"y":-1.22,"y2":-2.82},{"v":0.111,"p":2,"x":1.91,"y":-1.32,"y2":-2.72},{"v":0.111,"p":2,"x":2.24,"y":-1.6,"y2":-2.44},{"v":0.111,"p":2,"x":2.38,"y":-2.02,"y2":-2.02},
{"v":0.118,"p":1,"x":-2.25,"y":1.94,"y2":1.94},{"v":0.118,"p":1,"x":-2.13,"y":2.31,"y2":1.57},{"v":0.118,"p":1,"x":-1.84,"y":2.54,"y2":1.34},{"v":0.118,"p":1,"x":-1.43,"y":2.63,"y2":1.25},{"v":0.118,"p":1,"x":-1.02,"y":2.54,"y2":1.34},{"v":0.118,"p":1,"x":-0.73,"y":2.31,"y2":1.57},{"v":0.118,"p":1,"x":-0.61,"y":1.94,"y2":1.94},
{"v":0.118,"p":2,"x":0.61,"y":-2.04,"y2":-2.04},{"v":0.118,"p":2,"x":0.73,"y":-1.67,"y2":-2.41},{"v":0.118,"p":2,"x":1.02,"y":-1.44,"y2":-2.64},{"v":0.118,"p":2,"x":1.43,"y":-1.35,"y2":-2.73},{"v":0.118,"p":2,"x":1.84,"y":-1.44,"y2":-2.64},{"v":0.118,"p":2,"x":2.13,"y":-1.67,"y2":-2.41},{"v":0.118,"p":2,"x":2.25,"y":-2.04,"y2":-2.04},
{"v":0.125,"p":1,"x":-2.05,"y":1.95,"y2":1.95},{"v":0.125,"p":1,"x":-1.96,"y":2.23,"y2":1.67},{"v":0.125,"p":1,"x":-1.74,"y":2.4,"y2":1.5},{"v":0.125,"p":1,"x":-1.43,"y":2.47,"y2":1.43},{"v":0.125,"p":1,"x":-1.12,"y":2.4,"y2":1.5},{"v":0.125,"p":1,"x":-0.9,"y":2.23,"y2":1.67},{"v":0.125,"p":1,"x":-0.81,"y":1.95,"y2":1.95},
{"v":0.125,"p":2,"x":0.81,"y":-2.05,"y2":-2.05},{"v":0.125,"p":2,"x":0.9,"y":-1.77,"y2":-2.33},{"v":0.125,"p":2,"x":1.12,"y":-1.6,"y2":-2.5},{"v":0.125,"p":2,"x":1.43,"y":-1.53,"y2":-2.57},{"v":0.125,"p":2,"x":1.74,"y":-1.6,"y2":-2.5},{"v":0.125,"p":2,"x":1.96,"y":-1.77,"y2":-2.33},{"v":0.125,"p":2,"x":2.05,"y":-2.05,"y2":-2.05},
{"v":0.13,"p":1,"x":-1.73,"y":1.95,"y2":1.95},{"v":0.13,"p":1,"x":-1.69,"y":2.08,"y2":1.82},{"v":0.13,"p":1,"x":-1.58,"y":2.17,"y2":1.73},{"v":0.13,"p":1,"x":-1.43,"y":2.2,"y2":1.7},{"v":0.13,"p":1,"x":-1.28,"y":2.17,"y2":1.73},{"v":0.13,"p":1,"x":-1.17,"y":2.08,"y2":1.82},{"v":0.13,"p":1,"x":-1.13,"y":1.95,"y2":1.95},
{"v":0.13,"p":2,"x":1.13,"y":-2.05,"y2":-2.05},{"v":0.13,"p":2,"x":1.17,"y":-1.92,"y2":-2.18},{"v":0.13,"p":2,"x":1.28,"y":-1.83,"y2":-2.27},{"v":0.13,"p":2,"x":1.43,"y":-1.8,"y2":-2.3},{"v":0.13,"p":2,"x":1.58,"y":-1.83,"y2":-2.27},{"v":0.13,"p":2,"x":1.69,"y":-1.92,"y2":-2.18},{"v":0.13,"p":2,"x":1.73,"y":-2.05,"y2":-2.05},
{"v":0.003,"p":1,"x":-4.02,"y":2.37,"y2":1.83},{"v":0.003,"p":2,"x":-4.02,"y":1.37,"y2":1.83},{"v":0.003,"p":2,"x":4.02,"y":-2.37,"y2":-1.83},{"v":0.003,"p":1,"x":4.02,"y":-1.37,"y2":-1.83},
{"v":0.0075,"p":1,"x":-3.87,"y":2.31,"y2":1.77},{"v":0.0075,"p":2,"x":-3.87,"y":1.31,"y2":1.77},{"v":0.0075,"p":2,"x":3.87,"y":-2.31,"y2":-1.77},{"v":0.0075,"p":1,"x":3.87,"y":-1.31,"y2":-1.77},
{"v":0.0125,"p":1,"x":-3.74,"y":2.25,"y2":1.71},{"v":0.0125,"p":2,"x":-3.74,"y":1.25,"y2":1.71},{"v":0.0125,"p":2,"x":3.74,"y":-2.25,"y2":-1.71},{"v":0.0125,"p":1,"x":3.74,"y":-1.25,"y2":-1.71},
{"v":0.0185,"p":1,"x":-3.62,"y":2.19,"y2":1.65},{"v":0.0185,"p":2,"x":-3.62,"y":1.19,"y2":1.65},{"v":0.0185,"p":2,"x":3.62,"y":-2.19,"y2":-1.65},{"v":0.0185,"p":1,"x":3.62,"y":-1.19,"y2":-1.65},
{"v":0.025,"p":1,"x":-3.52,"y":2.15,"y2":1.61},{"v":0.025,"p":2,"x":-3.52,"y":1.15,"y2":1.61},{"v":0.025,"p":2,"x":3.52,"y":-2.15,"y2":-1.61},{"v":0.025,"p":1,"x":3.52,"y":-1.15,"y2":-1.61},
{"v":0.0316,"p":1,"x":-3.42,"y":2.1,"y2":1.56},{"v":0.0316,"p":2,"x":-3.42,"y":1.1,"y2":1.56},{"v":0.0316,"p":2,"x":3.42,"y":-2.1,"y2":-1.56},{"v":0.0316,"p":1,"x":3.42,"y":-1.1,"y2":-1.56},
{"v":0.038,"p":1,"x":-3.32,"y":2.05,"y2":1.51},{"v":0.038,"p":2,"x":-3.32,"y":1.05,"y2":1.51},{"v":0.038,"p":2,"x":3.32,"y":-2.05,"y2":-1.51},{"v":0.038,"p":1,"x":3.32,"y":-1.05,"y2":-1.51},
{"v":0.045,"p":1,"x":-3.22,"y":2.01,"y2":1.47},{"v":0.045,"p":2,"x":-3.22,"y":1.01,"y2":1.47},{"v":0.045,"p":2,"x":3.22,"y":-2.01,"y2":-1.47},{"v":0.045,"p":1,"x":3.22,"y":-1.01,"y2":-1.47},
{"v":0.052,"p":1,"x":-3.12,"y":1.96,"y2":1.42},{"v":0.052,"p":2,"x":-3.12,"y":0.96,"y2":1.42},{"v":0.052,"p":2,"x":3.12,"y":-1.96,"y2":-1.42},{"v":0.052,"p":1,"x":3.12,"y":-0.96,"y2":-1.42},
{"v":0.059,"p":1,"x":-3.02,"y":1.92,"y2":1.38},{"v":0.059,"p":2,"x":-3.02,"y":0.92,"y2":1.38},{"v":0.059,"p":2,"x":3.02,"y":-1.92,"y2":-1.38},{"v":0.059,"p":1,"x":3.02,"y":-0.92,"y2":-1.38},
{"v":0.066,"p":1,"x":-2.92,"y":1.87,"y2":1.33},{"v":0.066,"p":2,"x":-2.92,"y":0.87,"y2":1.33},{"v":0.066,"p":2,"x":2.92,"y":-1.87,"y2":-1.33},{"v":0.066,"p":1,"x":2.92,"y":-0.87,"y2":-1.33},
{"v":0.072,"p":1,"x":-2.9,"y":2.03,"y2":1.33},{"v":0.072,"p":1,"x":0.04,"y":2.03,"y2":1.33},{"v":0.072,"p":2,"x":-0.04,"y":-1.43,"y2":-2.13},{"v":0.072,"p":2,"x":2.9,"y":-1.43,"y2":-2.13},
{"v":0.078,"p":1,"x":-2.81,"y":2.07,"y2":1.43},{"v":0.078,"p":1,"x":-0.05,"y":2.07,"y2":1.43},{"v":0.078,"p":2,"x":0.05,"y":-1.53,"y2":-2.17},{"v":0.078,"p":2,"x":2.81,"y":-1.53,"y2":-2.17},
{"v":0.084,"p":1,"x":-2.71,"y":2.09,"y2":1.53},{"v":0.084,"p":1,"x":-0.15,"y":2.09,"y2":1.53},{"v":0.084,"p":2,"x":0.15,"y":-1.63,"y2":-2.19},{"v":0.084,"p":2,"x":2.71,"y":-1.63,"y2":-2.19},
{"v":0.09,"p":1,"x":-2.61,"y":2.1,"y2":1.6},{"v":0.09,"p":1,"x":-0.25,"y":2.1,"y2":1.6},{"v":0.09,"p":2,"x":0.25,"y":-1.7,"y2":-2.2},{"v":0.09,"p":2,"x":2.61,"y":-1.7,"y2":-2.2},
{"v":0.097,"p":1,"x":-2.5,"y":2.09,"y2":1.65},{"v":0.097,"p":1,"x":-0.36,"y":2.09,"y2":1.65},{"v":0.097,"p":2,"x":0.36,"y":-1.73,"y2":-2.21},{"v":0.097,"p":2,"x":2.5,"y":-1.73,"y2":-2.21},
{"v":0.104,"p":1,"x":-2.43,"y":2.11,"y2":1.69},{"v":0.104,"p":1,"x":-0.43,"y":2.11,"y2":1.69},{"v":0.104,"p":2,"x":0.43,"y":-1.79,"y2":-2.21},{"v":0.104,"p":2,"x":2.43,"y":-1.79,"y2":-2.21},
{"v":0.111,"p":1,"x":-2.35,"y":2.11,"y2":1.73},{"v":0.111,"p":1,"x":-0.51,"y":2.11,"y2":1.73},{"v":0.111,"p":2,"x":0.51,"y":-1.83,"y2":-2.21},{"v":0.111,"p":2,"x":2.35,"y":-1.83,"y2":-2.21},
{"v":0.118,"p":1,"x":-2.23,"y":2.11,"y2":1.77},{"v":0.118,"p":1,"x":-0.63,"y":2.11,"y2":1.77},{"v":0.118,"p":2,"x":0.63,"y":-1.87,"y2":-2.21},{"v":0.118,"p":2,"x":2.23,"y":-1.87,"y2":-2.21},
{"v":0.125,"p":1,"x":-2.03,"y":2.08,"y2":1.82},{"v":0.125,"p":1,"x":-0.83,"y":2.08,"y2":1.82},{"v":0.125,"p":2,"x":0.83,"y":-1.92,"y2":-2.18},{"v":0.125,"p":2,"x":2.03,"y":-1.92,"y2":-2.18},
{"v":0.13,"p":1,"x":-1.72,"y":2.01,"y2":1.89},{"v":0.13,"p":1,"x":-1.14,"y":2.01,"y2":1.89},{"v":0.13,"p":2,"x":1.14,"y":-1.99,"y2":-2.11},{"v":0.13,"p":2,"x":1.72,"y":-1.99,"y2":-2.11}
]},
"hconcat":[
{"width":42,"height":801,"data":{"name":"bar"},"mark":{"type":"rect","strokeWidth":0.6},
"encoding":{
"y":{"field":"y","type":"quantitative","title":null,"scale":{"domain":[-0.26172,0.13197],"nice":false,"zero":false},"axis":{"orient":"right","values":[0,0.043,0.086,0.13],"domain":false,"grid":false,"tickSize":12,"tickColor":"#000000","tickWidth":1,"labelPadding":2,"labelFont":"Lato","labelFontSize":14.5,"labelColor":"#111111","labelExpr":"datum.value==0?'0.0':format(datum.value,'.3~f')"}},
"y2":{"field":"y2"},
"color":{"field":"y2","type":"quantitative","legend":null,"scale":{"domain":[0,0.0316,0.066,0.0972,0.13],"range":["#0000ff","#00ffff","#00ff00","#ffff00","#ff0000"]}},
"stroke":{"field":"y2","type":"quantitative","legend":null,"scale":{"domain":[0,0.0316,0.066,0.0972,0.13],"range":["#0000ff","#00ffff","#00ff00","#ffff00","#ff0000"]}}}},
{"width":801,"height":801,"view":{"stroke":"#000000","strokeWidth":1},
"resolve":{"axis":{"x":"independent","y":"independent"}},
"layer":[
{"data":{"name":"disk"},"mark":{"type":"rect","stroke":"#0000ff","strokeWidth":1},
"encoding":{
"x":{"field":"x","type":"quantitative","scale":{"domain":[-8,8],"nice":false,"zero":false},"title":"X","axis":{"grid":false,"domain":false,"values":[-8,-7.8,-7.6,-7.4,-7.2,-7,-6.8,-6.6,-6.4,-6.2,-6,-5.8,-5.6,-5.4,-5.2,-5,-4.8,-4.6,-4.4,-4.2,-4,-3.8,-3.6,-3.4,-3.2,-3,-2.8,-2.6,-2.4,-2.2,-2,-1.8,-1.6,-1.4,-1.2,-1,-0.8,-0.6,-0.4,-0.2,0,0.2,0.4,0.6,0.8,1,1.2,1.4,1.6,1.8,2,2.2,2.4,2.6,2.8,3,3.2,3.4,3.6,3.8,4,4.2,4.4,4.6,4.8,5,5.2,5.4,5.6,5.8,6,6.2,6.4,6.6,6.8,7,7.2,7.4,7.6,7.8],"tickColor":"#000000","tickSize":{"condition":{"test":"abs(round(datum.value*5))%10==0","value":10},"value":4},"labelExpr":"abs(round(datum.value*5))%10==0?format(datum.value,'.0f'):''","labelOverlap":false,"labelFlush":false,"labelBound":false,"labelFont":"DejaVu Sans","labelFontStyle":"italic","labelFontSize":25,"labelColor":"#000000","labelPadding":2,"titleFont":"Liberation Serif","titleFontStyle":"italic","titleFontWeight":"bold","titleFontSize":40,"titleColor":"#000000","titlePadding":2}},
"x2":{"field":"x2"},
"y":{"field":"y","type":"quantitative","scale":{"domain":[-8,8],"nice":false,"zero":false},"title":"Y","axis":{"grid":false,"domain":false,"values":[-8,-7.8,-7.6,-7.4,-7.2,-7,-6.8,-6.6,-6.4,-6.2,-6,-5.8,-5.6,-5.4,-5.2,-5,-4.8,-4.6,-4.4,-4.2,-4,-3.8,-3.6,-3.4,-3.2,-3,-2.8,-2.6,-2.4,-2.2,-2,-1.8,-1.6,-1.4,-1.2,-1,-0.8,-0.6,-0.4,-0.2,0,0.2,0.4,0.6,0.8,1,1.2,1.4,1.6,1.8,2,2.2,2.4,2.6,2.8,3,3.2,3.4,3.6,3.8,4,4.2,4.4,4.6,4.8,5,5.2,5.4,5.6,5.8,6,6.2,6.4,6.6,6.8,7,7.2,7.4,7.6,7.8],"tickColor":"#000000","tickSize":{"condition":{"test":"abs(round(datum.value*5))%10==0","value":10},"value":4},"labelExpr":"abs(round(datum.value*5))%10==0?format(datum.value,'.0f'):''","labelOverlap":false,"labelFlush":false,"labelBound":false,"labelFont":"DejaVu Sans","labelFontStyle":"italic","labelFontWeight":"bold","labelFontSize":25,"labelColor":"#000000","labelPadding":3,"titleFont":"Liberation Serif","titleFontStyle":"italic","titleFontWeight":"bold","titleFontSize":40,"titleColor":"#000000","titlePadding":2}},
"y2":{"field":"y2"},
"color":{"field":"v","type":"quantitative","legend":null,"scale":{"domain":[0,0.0316,0.066,0.0972,0.13],"range":["#0000ff","#00ffff","#00ff00","#ffff00","#ff0000"]}}}},
{"data":{"name":"shape"},"mark":{"type":"area","interpolate":"monotone","strokeOpacity":0.5,"strokeWidth":5,"strokeJoin":"round"},
"encoding":{
"x":{"field":"x","type":"quantitative","axis":null,"scale":{"domain":[-8,8],"nice":false,"zero":false}},
"y":{"field":"y","type":"quantitative","axis":null,"stack":null,"scale":{"domain":[-8,8],"nice":false,"zero":false}},
"y2":{"field":"y2"},
"detail":{"field":"p"},
"color":{"field":"v","type":"quantitative","legend":null,"scale":{"domain":[0,0.0316,0.066,0.0972,0.13],"range":["#0000ff","#00ffff","#00ff00","#ffff00","#ff0000"]}},
"stroke":{"field":"v","type":"quantitative","legend":null,"scale":{"domain":[0,0.0316,0.066,0.0972,0.13],"range":["#0000ff","#00ffff","#00ff00","#ffff00","#ff0000"]}}}}
]}
]}
